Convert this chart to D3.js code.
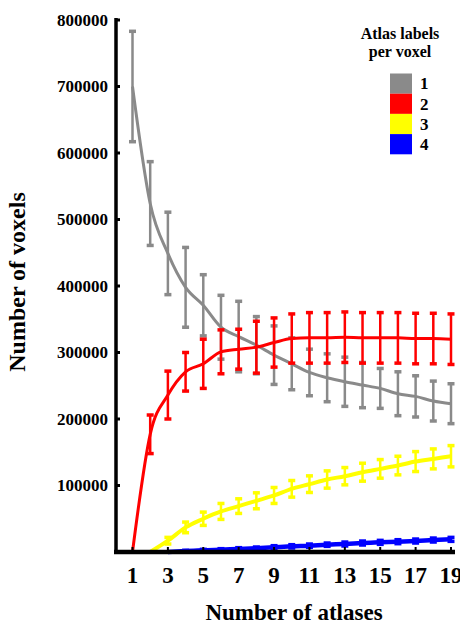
<!DOCTYPE html>
<html>
<head>
<meta charset="utf-8">
<script src="https://cdn.jsdelivr.net/npm/d3@7"></script>
<style>
  html, body { margin: 0; padding: 0; background: #fff; }
  svg text { font-family: "Liberation Serif", "DejaVu Serif", serif; font-weight: bold; }
</style>
</head>
<body>
<svg id="chart" width="460" height="632"></svg>
<script>
// number of atlases on the x axis
const atlasCounts = [1, 2, 3, 4, 5, 6, 7, 8, 9, 10, 11, 12, 13, 14, 15, 16, 17, 18, 19];
const xTickValues = [1, 3, 5, 7, 9, 11, 13, 15, 17, 19];
const yTickValues = [100000, 200000, 300000, 400000, 500000, 600000, 700000, 800000];

// mean number of voxels, one list per "atlas labels per voxel" class
const oneLabel = [700000, 524000, 449000, 398000, 371000, 338000, 324000, 311000, 296000, 283000, 270000, 262000, 256000, 251000, 246000, 238000, 234000, 227000, 223000];
const twoLabels = [0, 177000, 236000, 271000, 283000, 301000, 305000, 308000, 315000, 321000, 322000, 322000, 323000, 322000, 322000, 322000, 321000, 321000, 320000];
const threeLabels = [null, 0, 17000, 37000, 50000, 61000, 69000, 77000, 85000, 95000, 102000, 109000, 114000, 120000, 125000, 130000, 136000, 140000, 144000];
const fourLabels = [null, null, 0, 1500, 2500, 3500, 4500, 5500, 7000, 8500, 9500, 11000, 12000, 13500, 14500, 15500, 16500, 18000, 19000];

// standard deviation (half length of the error bars)
const oneLabelErr = [83000, 63000, 62000, 60000, 46000, 48000, 53000, 43000, 44000, 39000, 35000, 36000, 37000, 34000, 30000, 33000, 31000, 30000, 30000];
const twoLabelsErr = [0, 29000, 36000, 29000, 37000, 33000, 30000, 39000, 37000, 37000, 38000, 38000, 38000, 38000, 38000, 38000, 38000, 38000, 38000];
const threeLabelsErr = [null, 0, 5000, 8000, 10000, 12000, 11000, 12000, 12000, 12500, 12500, 13000, 13000, 13500, 14000, 14000, 15000, 15000, 16000];
const fourLabelsErr = [null, null, 0, 1000, 1500, 1500, 2000, 2000, 2500, 2500, 2500, 2500, 3000, 3000, 3000, 3000, 3000, 3000, 3000];

const legendNames = ["1", "2", "3", "4"];
const legendColors = ["#8a8a8a", "#ff0000", "#ffff00", "#0000ff"];

const series = [
    {name: legendNames[0], color: legendColors[0], values: oneLabel, err: oneLabelErr, width: 3},
    {name: legendNames[1], color: legendColors[1], values: twoLabels, err: twoLabelsErr, width: 3},
    {name: legendNames[2], color: legendColors[2], values: threeLabels, err: threeLabelsErr, width: 4},
    {name: legendNames[3], color: legendColors[3], values: fourLabels, err: fourLabelsErr, width: 4.5}
];

const serif = "'Liberation Serif', 'DejaVu Serif', serif";
const svg = d3.select("#chart");

const axisX = 116, axisY = 552;
const x = d3.scaleLinear().domain([1, 19]).range([132.5, 451]);
const y = d3.scaleLinear().domain([0, 800000]).range([axisY, 20]);

// series lines + error bars
series.forEach(s => {
    const pts = atlasCounts.map((n, i) => ({n: n, v: s.values[i], e: s.err[i]})).filter(d => d.v !== null);
    const g = svg.append("g");

    g.append("path")
        .datum(pts)
        .attr("fill", "none")
        .attr("stroke", s.color)
        .attr("stroke-width", s.width)
        .attr("stroke-linejoin", "round")
        .attr("d", d3.line().x(d => x(d.n)).y(d => y(d.v)).curve(d3.curveMonotoneX));

    const bars = g.selectAll("g.err")
        .data(pts.filter(d => d.e > 0))
        .join("g")
        .attr("class", "err");

    bars.append("line")
        .attr("x1", d => x(d.n)).attr("x2", d => x(d.n))
        .attr("y1", d => y(d.v + d.e)).attr("y2", d => y(d.v - d.e))
        .attr("stroke", s.color)
        .attr("stroke-width", 2.5);

    [1, -1].forEach(sign => {
        bars.append("line")
            .attr("x1", d => x(d.n) - 3.5).attr("x2", d => x(d.n) + 3.5)
            .attr("y1", d => y(d.v + sign * d.e)).attr("y2", d => y(d.v + sign * d.e))
            .attr("stroke", s.color)
            .attr("stroke-width", 3.5);
    });
});

// axes
svg.append("line")
    .attr("x1", axisX).attr("x2", axisX)
    .attr("y1", y(800000) - 2).attr("y2", axisY + 2)
    .attr("stroke", "#000").attr("stroke-width", 3.5);
svg.append("line")
    .attr("x1", axisX - 2).attr("x2", 455)
    .attr("y1", axisY).attr("y2", axisY)
    .attr("stroke", "#000").attr("stroke-width", 4.5);

svg.append("g").selectAll("line")
    .data(yTickValues)
    .join("line")
    .attr("x1", axisX).attr("x2", axisX + 4)
    .attr("y1", d => y(d)).attr("y2", d => y(d))
    .attr("stroke", "#000").attr("stroke-width", 3);

svg.append("g").selectAll("text")
    .data(yTickValues)
    .join("text")
    .attr("x", 108)
    .attr("y", d => y(d))
    .attr("dy", "0.35em")
    .attr("text-anchor", "end")
    .attr("font-family", serif)
    .attr("font-size", 17)
    .text(d => d);

svg.append("g").selectAll("line")
    .data(xTickValues)
    .join("line")
    .attr("x1", d => x(d)).attr("x2", d => x(d))
    .attr("y1", axisY).attr("y2", axisY - 5)
    .attr("stroke", "#000").attr("stroke-width", 2);

svg.append("g").selectAll("text")
    .data(xTickValues)
    .join("text")
    .attr("x", d => x(d))
    .attr("y", 583)
    .attr("text-anchor", "middle")
    .attr("font-family", serif)
    .attr("font-size", 23)
    .text(d => d);

// axis titles
svg.append("text")
    .attr("x", 294).attr("y", 620)
    .attr("text-anchor", "middle")
    .attr("font-family", serif)
    .attr("font-size", 23)
    .text("Number of atlases");

svg.append("text")
    .attr("transform", "translate(25,282) rotate(-90)")
    .attr("text-anchor", "middle")
    .attr("font-family", serif)
    .attr("font-size", 24)
    .text("Number of voxels");

// legend
const legend = svg.append("g");
legend.append("text")
    .attr("x", 400).attr("y", 39)
    .attr("text-anchor", "middle")
    .attr("font-family", serif)
    .attr("font-size", 16)
    .text("Atlas labels");
legend.append("text")
    .attr("x", 400).attr("y", 57)
    .attr("text-anchor", "middle")
    .attr("font-family", serif)
    .attr("font-size", 16)
    .text("per voxel");

const item = legend.selectAll("g")
    .data(legendNames)
    .join("g")
    .attr("transform", (d, i) => `translate(390,${73.5 + i * 20.2})`);
item.append("rect")
    .attr("width", 22).attr("height", 20.2)
    .attr("fill", (d, i) => legendColors[i]);
item.append("text")
    .attr("x", 30).attr("y", 10)
    .attr("dy", "0.35em")
    .attr("font-family", serif)
    .attr("font-size", 17)
    .text(d => d);
</script>
</body>
</html>
